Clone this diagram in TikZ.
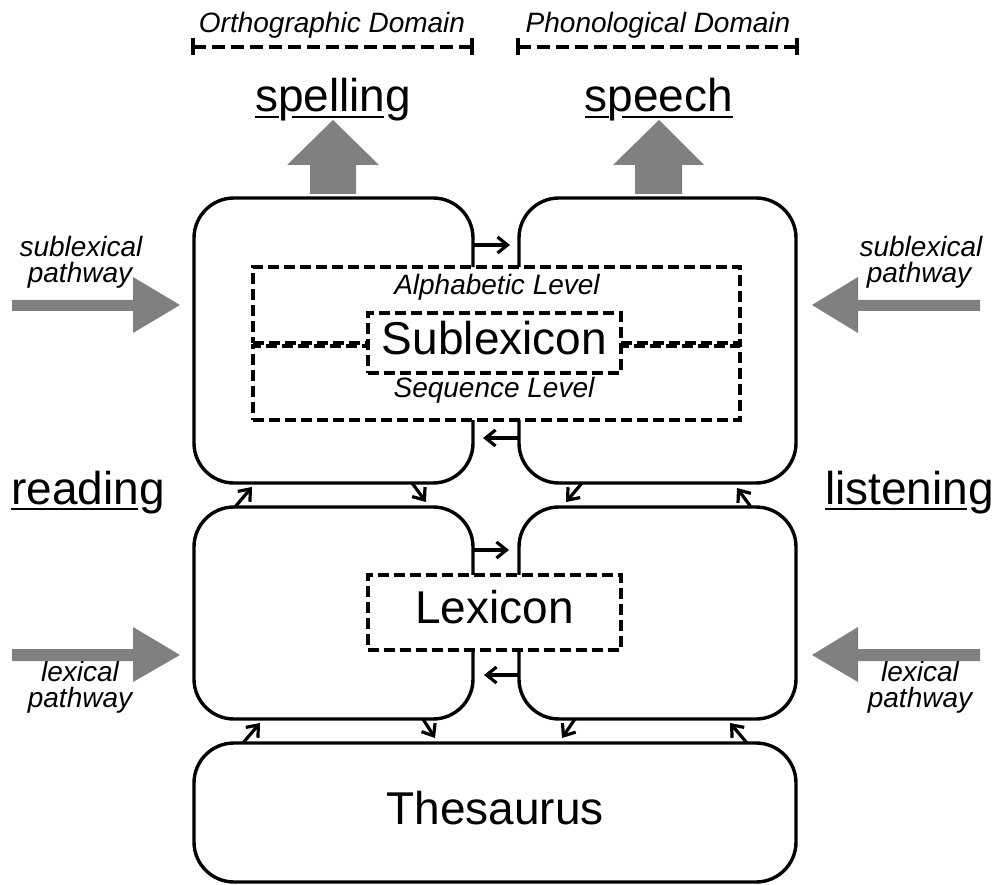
\documentclass[tikz,border=0pt]{standalone}
\usepackage{fontspec}
\setmainfont{Liberation Sans}
\usetikzlibrary{arrows.meta}
\definecolor{bigarrow}{RGB}{128,128,128}
\begin{document}
\begin{tikzpicture}[x=1pt,y=-1pt,
  box/.style={draw,line width=3.4pt,rounded corners=40pt,fill=white,inner sep=0pt,outer sep=0pt},
  dbox/.style={draw,line width=3.4pt,dash pattern=on 11pt off 5pt,fill=white,inner sep=0pt,outer sep=0pt},
  sm/.style={line width=3.2pt,-{Straight Barb[length=10pt,width=16pt]}},
  bigtxt/.style={font=\fontsize{46}{50}\selectfont},
  lbl/.style={inner sep=0pt,font=\fontsize{46}{50}\selectfont},
  ital/.style={inner sep=0pt,font=\fontsize{28}{28}\selectfont\itshape},
  uline/.style={line width=2.6pt},
  bracket/.style={line width=3.4pt,dash pattern=on 13pt off 6pt},
  brtick/.style={line width=3.4pt},
  blockarrow/.style={fill=bigarrow}]
\useasboundingbox (0,0) rectangle (1002,885);

% main boxes
\node[box,minimum width=279pt,minimum height=285pt] (tl) at (333.5,340.5) {};
\node[box,minimum width=277pt,minimum height=285pt] (tr) at (657.5,340.5) {};
\node[box,minimum width=279pt,minimum height=212pt] (ml) at (333.5,613) {};
\node[box,minimum width=277pt,minimum height=212pt] (mr) at (657.5,613) {};
\node[box,bigtxt,minimum width=602pt,minimum height=139pt,text height=33pt,text depth=10pt] (th) at (495,812.5) {Thesaurus};

% sublexicon levels
\node[dbox,minimum width=487pt,minimum height=76pt] (alpha) at (496.5,305) {};
\node[dbox,minimum width=487pt,minimum height=74pt] (seq) at (496.5,383) {};
\node[ital,anchor=base] (alphat) at (497,295) {Alphabetic Level};
\node[ital,anchor=base] (seqt) at (494,398) {Sequence Level};
\node[dbox,bigtxt,minimum width=253pt,minimum height=60pt,text height=33pt,text depth=9pt] (sub) at (494.5,343) {Sublexicon};
\node[dbox,bigtxt,minimum width=253pt,minimum height=75pt,text height=33pt,text depth=12pt] (lex) at (494.5,612.5) {Lexicon};

% horizontal small arrows
\draw[sm] ([yshift=-47pt]tl.north east) -- ([xshift=-9pt,yshift=-47pt]tr.north west);
\draw[sm] ([yshift=45pt]tr.south west) -- ([xshift=10pt,yshift=45pt]tl.south east);
\draw[sm] ([yshift=-43pt]ml.north east) -- ([xshift=-10pt,yshift=-43pt]mr.north west);
\draw[sm] ([yshift=44pt]mr.south west) -- ([xshift=11pt,yshift=44pt]ml.south east);

% diagonal arrows top <-> middle
\draw[sm] ([xshift=41pt]ml.north west) -- ([xshift=58pt,yshift=-4pt]tl.south west);
\draw[sm] ([xshift=218pt]tl.south west) -- ([xshift=232pt,yshift=5pt]ml.north west);
\draw[sm] ([xshift=63pt]tr.south west) -- ([xshift=47pt,yshift=5pt]mr.north west);
\draw[sm] ([xshift=232pt]mr.north west) -- ([xshift=218pt,yshift=-5pt]tr.south west);

% diagonal arrows middle <-> thesaurus
\draw[sm] ([xshift=49pt]th.north west) -- ([xshift=66pt,yshift=-4pt]ml.south west);
\draw[sm] ([xshift=229pt]ml.south west) -- ([xshift=241pt,yshift=5pt]th.north west);
\draw[sm] ([xshift=56pt]mr.south west) -- ([xshift=368pt,yshift=5pt]th.north west);
\draw[sm] ([xshift=553pt]th.north west) -- ([xshift=211pt,yshift=-4pt]mr.south west);

% domain labels and brackets
\node[ital,anchor=base] (orth) at (332,33) {Orthographic Domain};
\node[ital,anchor=base] (phon) at (658,33) {Phonological Domain};
\coordinate (ob1) at (193,47); \coordinate (ob2) at (472,47);
\coordinate (pb1) at (518,47); \coordinate (pb2) at (797,47);
\draw[bracket] (ob1) -- (ob2);
\draw[bracket] (pb1) -- (pb2);
\draw[brtick] ([yshift=9pt]ob1) -- ([yshift=-8pt]ob1);
\draw[brtick] ([yshift=9pt]ob2) -- ([yshift=-8pt]ob2);
\draw[brtick] ([yshift=9pt]pb1) -- ([yshift=-8pt]pb1);
\draw[brtick] ([yshift=9pt]pb2) -- ([yshift=-8pt]pb2);

% big underlined labels (underline skips descenders)
\node[lbl,anchor=base] (spell) at (333,112) {spelling};
\node[lbl,anchor=base] (speech) at (659,112) {speech};
\node[lbl,anchor=base] (read) at (88,504) {reading};
\node[lbl,anchor=base] (listen) at (909.5,504) {listening};
\draw[uline] ([yshift=-5pt]spell.base west) -- ([xshift=24pt,yshift=-5pt]spell.base west);
\draw[uline] ([xshift=37pt,yshift=-5pt]spell.base west) -- ([xshift=-27pt,yshift=-5pt]spell.base east);
\draw[uline] ([yshift=-5pt]speech.base west) -- ([xshift=24pt,yshift=-5pt]speech.base west);
\draw[uline] ([xshift=37pt,yshift=-5pt]speech.base west) -- ([yshift=-5pt]speech.base east);
\draw[uline] ([yshift=-5pt]read.base west) -- ([xshift=-27pt,yshift=-5pt]read.base east);
\draw[uline] ([yshift=-5pt]listen.base west) -- ([xshift=-27pt,yshift=-5pt]listen.base east);

% pathway labels
\node[ital,anchor=base] (sl1) at (81,257) {sublexical};
\node[ital,anchor=base] (sl2) at (80,283) {pathway};
\node[ital,anchor=base] (sr1) at (921,257) {sublexical};
\node[ital,anchor=base] (sr2) at (919,283) {pathway};
\node[ital,anchor=base] (ll1) at (80,681) {lexical};
\node[ital,anchor=base] (ll2) at (80,707) {pathway};
\node[ital,anchor=base] (lr1) at (920,681) {lexical};
\node[ital,anchor=base] (lr2) at (920,707) {pathway};

% big gray arrows
\fill[blockarrow] (310,194) -- (310,165) -- (287,165) -- (333,120) -- (379,165) -- (356,165) -- (356,194) -- cycle;
\fill[blockarrow] (635,194) -- (635,165) -- (613,165) -- (659,120) -- (704,165) -- (682,165) -- (682,194) -- cycle;
\fill[blockarrow] (12,300) -- (133,300) -- (133,277) -- (180,305) -- (133,333) -- (133,311) -- (12,311) -- cycle;
\fill[blockarrow] (980,300) -- (858,300) -- (858,277) -- (812,305) -- (858,333) -- (858,311) -- (980,311) -- cycle;
\fill[blockarrow] (12,649) -- (133,649) -- (133,627) -- (180,655) -- (133,682) -- (133,661) -- (12,661) -- cycle;
\fill[blockarrow] (980,649) -- (858,649) -- (858,627) -- (812,655) -- (858,682) -- (858,661) -- (980,661) -- cycle;
\end{tikzpicture}
\end{document}
